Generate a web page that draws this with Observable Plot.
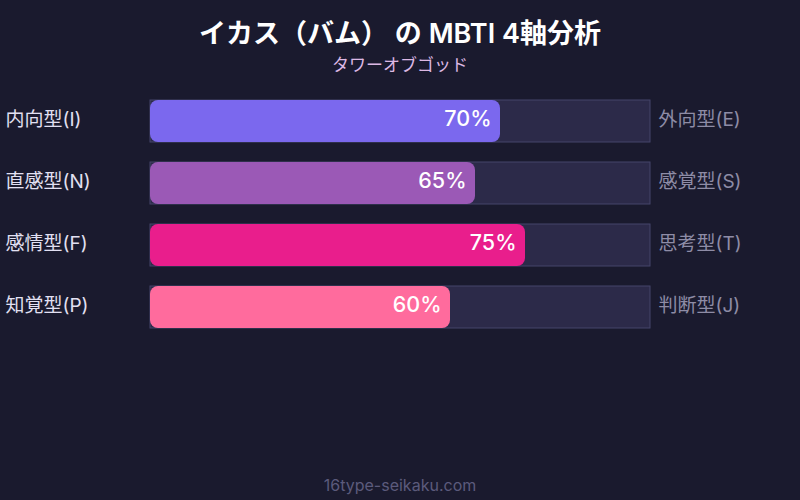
<!DOCTYPE html>
<html>
<head>
<meta charset="utf-8">
<script src="https://cdn.jsdelivr.net/npm/d3@7"></script>
<script src="https://cdn.jsdelivr.net/npm/@observablehq/plot@0.6"></script>
<style>
  html, body { margin: 0; padding: 0; background: #1a1a2e; }
  body { width: 800px; height: 500px; position: relative; overflow: hidden;
         font-family: Inter, "Noto Sans CJK JP", sans-serif; }
  #title { position: absolute; top: 15px; left: 0; width: 800px; text-align: center;
           color: #ffffff; font-size: 27px; font-weight: 600; line-height: 38px; }
  #subtitle { position: absolute; top: 53px; left: 0; width: 800px; text-align: center;
              color: #dcb8e4; font-size: 17px; line-height: 24px; }
  #footer { position: absolute; top: 474px; left: 0; width: 800px; text-align: center;
            color: #5c5a7c; font-size: 16px; line-height: 22px; }
  #chart { position: absolute; top: 0; left: 0; }
</style>
</head>
<body>
<div id="chart"></div>
<div id="title">イカス（バム） の MBTI 4軸分析</div>
<div id="subtitle">タワーオブゴッド</div>
<div id="footer">16type-seikaku.com</div>
<script>
const leftLabels = ["内向型(I)", "直感型(N)", "感情型(F)", "知覚型(P)"];
const rightLabels = ["外向型(E)", "感覚型(S)", "思考型(T)", "判断型(J)"];
const values = [70, 65, 75, 60];
const colors = ["#7b68ee", "#9b59b6", "#e91e8c", "#ff6b9d"];

const rows = leftLabels.map((l, i) => ({left: l, right: rightLabels[i], value: values[i], color: colors[i]}));

const chart = Plot.plot({
  width: 800,
  height: 500,
  marginLeft: 150,
  marginRight: 150,
  marginTop: 100,
  marginBottom: 172,
  style: {background: "transparent", fontFamily: 'Inter, "Noto Sans CJK JP", sans-serif'},
  x: {domain: [0, 100], axis: null},
  y: {domain: leftLabels, range: [100, 328], paddingInner: 20 / 62, paddingOuter: 0, axis: null},
  marks: [
    Plot.barX(rows, {y: "left", x1: 0, x2: 100, fill: "#2c2a49", stroke: "#45446a", strokeWidth: 1}),
    Plot.barX(rows, {y: "left", x1: 0, x2: "value", fill: "color", rx: 8}),
    Plot.text(rows, {y: "left", x: "value", text: d => d.value + "%", textAnchor: "end", dx: -9, dy: -2,
                     fill: "#ffffff", fontSize: 21.5, fontWeight: 500}),
    Plot.text(rows, {y: "left", frameAnchor: "left", text: "left", textAnchor: "start", dx: -145, dy: -2,
                     fill: "#e2e0f2", fontSize: 19}),
    Plot.text(rows, {y: "left", frameAnchor: "right", text: "right", textAnchor: "start", dx: 8, dy: -2,
                     fill: "#8e8ca6", fontSize: 19})
  ]
});
document.getElementById("chart").appendChild(chart);
</script>
</body>
</html>
